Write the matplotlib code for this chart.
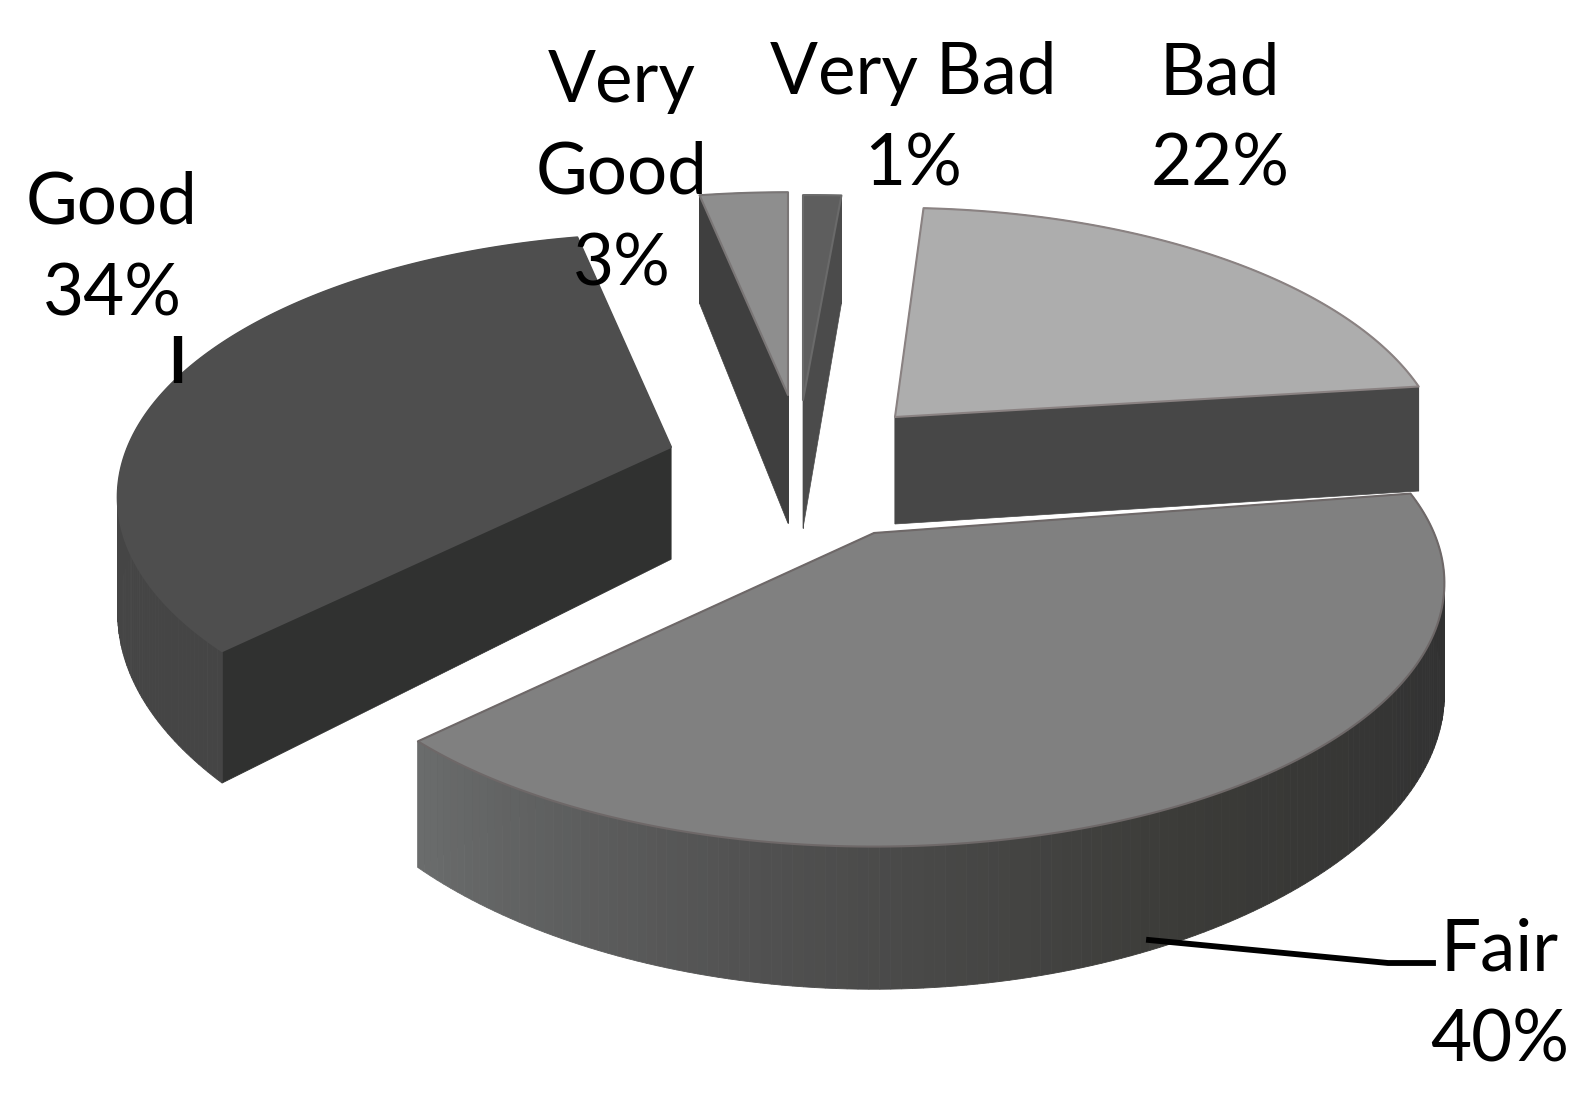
import numpy as np
import matplotlib
matplotlib.use('Agg')
from matplotlib import pyplot as plt

# data
labels = ['Very Bad', 'Bad', 'Fair', 'Good', 'Very Good']
values = [1, 22, 40, 34, 3]
label_lines = ['Very Bad', 'Bad', 'Fair', 'Good', 'Very\nGood']

# one apex for each exploded slice, in image pixels
apex_x = [803, 895, 874, 671, 788]
apex_y = [400, 417, 533, 447, 395]
# small per slice corrections for the skewed perspective of the original
rotate_deg = [0, 0, -2, -1, 0]
rx_scale = [1.3, 0.965, 1, 0.97, 1]
ry_scale = [0.96, 0.98, 1, 1, 0.95]
depth_scale = [1.2, 1, 1, 1.05, 1.2]

top_colors = ['#5e5e5e', '#adadad', '#808080', '#4e4e4e', '#8e8e8e']
cut_colors = ['#4b4b4b', '#474747', '#3a3a3a', '#303130', '#3f3f3f']
edge_colors = ['#6a6a6a', '#8a8282', '#6e6868', '#4e4e4e', '#7a7676']
wall_stops = [['#4b4b4b', '#4b4b4b'], ['#474747', '#474747'],
              ['#2f2f2f', '#333333', '#3b3b38', '#505050', '#6a6c6c'],
              ['#454545', '#454545'], ['#3f3f3f', '#3f3f3f']]
draw_order = [3, 4, 0, 1, 2]

label_x = [913, 1220, 1500, 112, 622]
label_y = [186, 186, 1062, 315, 285]

RX = 560
RY = 254
PERSP = 0.19
DEPTH = 107


def project(theta):
    # theta is clockwise from the top of the pie
    u = np.sin(theta)
    v = -np.cos(theta)
    s = 1 / (1 - PERSP * v)
    return RX * u * s, RY * v * s, s, v


def to_rgb(c):
    return np.array(matplotlib.colors.to_rgb(c))


fig = plt.figure(figsize=(15.94, 11.07), dpi=100)
ax = fig.add_axes([0, 0, 1, 1])
ax.set_xlim(0, 1594)
ax.set_ylim(1107, 0)
ax.axis('off')

# slice angles come from the values
edges = np.cumsum([0] + values) / sum(values) * 2 * np.pi

for i in draw_order:
    x0 = apex_x[i]
    y0 = apex_y[i]
    rot = np.radians(rotate_deg[i])
    theta = np.linspace(edges[i] + rot, edges[i + 1] + rot, 160)
    dx, dy, s, v = project(theta)
    dx = dx * rx_scale[i]
    dy = dy * ry_scale[i]
    # the wall gets a bit taller right at the front
    h = DEPTH * depth_scale[i] * s * (1 + 0.08 * np.clip(v, 0, 1) ** 4)
    z = draw_order.index(i) * 3

    # cut faces
    for j in [0, -1]:
        xs = [x0, x0 + dx[j], x0 + dx[j], x0]
        ys = [y0, y0 + dy[j], y0 + dy[j] + h[j], y0 + DEPTH * depth_scale[i]]
        ax.fill(xs, ys, color=cut_colors[i], lw=0.5, zorder=z + 1)

    # outer wall, shaded along the arc
    stops = [to_rgb(c) for c in wall_stops[i]]
    pos = np.linspace(0, 1, len(stops))
    for k in range(len(theta) - 1):
        f = k / (len(theta) - 2)
        col = [np.interp(f, pos, [c[n] for c in stops]) for n in range(3)]
        xs = [x0 + dx[k], x0 + dx[k + 1], x0 + dx[k + 1], x0 + dx[k]]
        ys = [y0 + dy[k], y0 + dy[k + 1], y0 + dy[k + 1] + h[k + 1], y0 + dy[k] + h[k]]
        ax.fill(xs, ys, color=col, lw=0.6, zorder=z + 2)

    # top surface
    ax.fill(np.r_[x0, x0 + dx], np.r_[y0, y0 + dy], facecolor=top_colors[i],
            edgecolor=edge_colors[i], lw=1.5, joinstyle='round', zorder=z + 3)

# labels
for i in range(len(labels)):
    ax.text(label_x[i], label_y[i], label_lines[i] + '\n' + str(values[i]) + '%',
            ha='center', va='baseline', fontsize=51, family='Lato', color='black',
            linespacing=1.5, zorder=50)

# leader lines
ax.plot([178, 178], [336, 383], color='black', lw=6, solid_capstyle='butt', zorder=40)
ax.plot([1149, 1388, 1433], [940, 963, 963], color='black', lw=4.2, zorder=40)

plt.savefig('out.png', dpi=100)
